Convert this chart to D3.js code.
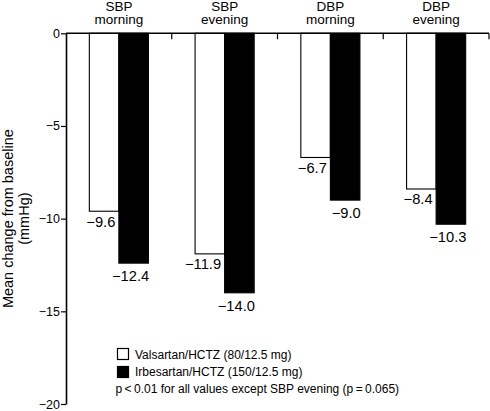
<!DOCTYPE html>
<html>
<head>
<meta charset="utf-8">
<script src="https://cdn.jsdelivr.net/npm/d3@7"></script>
<style>
  html, body { margin: 0; padding: 0; background: #fff; }
  svg { display: block; font-family: "Liberation Sans", Arial, Helvetica, sans-serif; }
</style>
</head>
<body>
<svg id="chart" width="490" height="411"></svg>
<script>
// ---- data ----
const categories = [["SBP", "morning"], ["SBP", "evening"], ["DBP", "morning"], ["DBP", "evening"]];
const seriesNames = ["Valsartan/HCTZ (80/12.5 mg)", "Irbesartan/HCTZ (150/12.5 mg)"];
const valsartan = [-9.6, -11.9, -6.7, -8.4];
const irbesartan = [-12.4, -14.0, -9.0, -10.3];
const yTicks = [0, -5, -10, -15, -20];
const yLabel = ["Mean change from baseline", "(mmHg)"];
const note = "p\u2009<\u20090.01 for all values except SBP evening (p\u2009=\u20090.065)";

// ---- layout ----
const svg = d3.select("#chart");
const catKeys = categories.map(c => c.join(" "));
const values = [valsartan, irbesartan];

const x = d3.scaleBand().domain(catKeys).range([66, 489]).paddingInner(0).paddingOuter(0);
const x1 = d3.scaleBand().domain([0, 1]).range([0, x.bandwidth()]).paddingInner(0).paddingOuter(0.79);
const y = d3.scaleLinear().domain([0, -20]).range([33.3, 404]);

const fills = ["#ffffff", "#000000"];

// bars
const g = svg.append("g");
catKeys.forEach((k, ci) => {
  [0, 1].forEach(si => {
    const v = values[si][ci];
    g.append("rect")
      .attr("x", x(k) + x1(si))
      .attr("y", y(0))
      .attr("width", x1.bandwidth())
      .attr("height", y(v) - y(0))
      .attr("fill", fills[si])
      .attr("stroke", "#000")
      .attr("stroke-width", 1.1);
  });
});

// text helper
function scaledText(sel, tx, ty, sx, txt, anchor, size) {
  return sel.append("text")
    .attr("transform", `translate(${tx},${ty}) scale(${sx},1)`)
    .attr("text-anchor", anchor)
    .attr("font-size", size)
    .attr("fill", "#000")
    .text(txt);
}

// value labels
const fmt = v => "\u2212" + Math.abs(v).toFixed(1);
catKeys.forEach((k, ci) => {
  [0, 1].forEach(si => {
    const v = values[si][ci];
    const right = x(k) + x1(si) + x1.bandwidth();
    const dx = si === 0 ? -3.5 : 0.8;
    const dy = si === 0 ? 15.5 : 18;
    scaledText(svg, right + dx, y(v) + dy, 1.05, fmt(v), "end", 14);
  });
});

// category labels
categories.forEach((c, ci) => {
  const cx = x(catKeys[ci]) + x.bandwidth() / 2;
  scaledText(svg, cx, 10.5, 1.0, c[0], "middle", 13.5);
  scaledText(svg, cx, 23.5, 1.0, c[1], "middle", 13.5);
});

// top axis line with ticks at band boundaries
svg.append("line")
  .attr("x1", x.range()[0]).attr("x2", x.range()[1])
  .attr("y1", y(0)).attr("y2", y(0))
  .attr("stroke", "#000").attr("stroke-width", 1.6);
catKeys.forEach(k => {
  const bx = x(k) + x.bandwidth();
  svg.append("line")
    .attr("x1", bx).attr("x2", bx)
    .attr("y1", y(0)).attr("y2", y(0) + 6)
    .attr("stroke", "#000").attr("stroke-width", 1.2);
});

// y axis
const yAxis = d3.axisLeft(y)
  .tickValues(yTicks)
  .tickSize(5)
  .tickSizeOuter(0)
  .tickPadding(1)
  .tickFormat(d => d === 0 ? "0" : "\u2212" + Math.abs(d));
const ya = svg.append("g").attr("transform", `translate(${x.range()[0]},0)`).call(yAxis);
ya.select(".domain").attr("stroke", "#000").attr("stroke-width", 1.6);
ya.selectAll(".tick line").attr("stroke", "#000").attr("stroke-width", 1.2);
ya.selectAll(".tick text")
  .attr("font-family", "Liberation Sans, Arial, sans-serif")
  .attr("font-size", 12.5)
  .attr("fill", "#000");

// y label
const ylg = svg.append("g").attr("transform", `translate(0,${y(-10)}) rotate(-90)`);
ylg.append("text").attr("x", 0).attr("y", 13).attr("text-anchor", "middle")
  .attr("font-size", 14.5).attr("fill", "#000").text(yLabel[0]);
ylg.append("text").attr("x", 0).attr("y", 29).attr("text-anchor", "middle")
  .attr("font-size", 14.5).attr("fill", "#000").text(yLabel[1]);

// legend
const leg = svg.append("g");
seriesNames.forEach((s, i) => {
  leg.append("rect")
    .attr("x", 117.5).attr("y", 348.5 + i * 18)
    .attr("width", 11).attr("height", 11)
    .attr("fill", fills[i]).attr("stroke", "#000").attr("stroke-width", 1.2);
  leg.append("text").attr("x", 135).attr("y", 359 + i * 17)
    .attr("font-size", 12).attr("fill", "#000").text(s);
});
leg.append("text").attr("x", 115.5).attr("y", 393)
  .attr("font-size", 12).attr("fill", "#000").text(note);
</script>
</body>
</html>
